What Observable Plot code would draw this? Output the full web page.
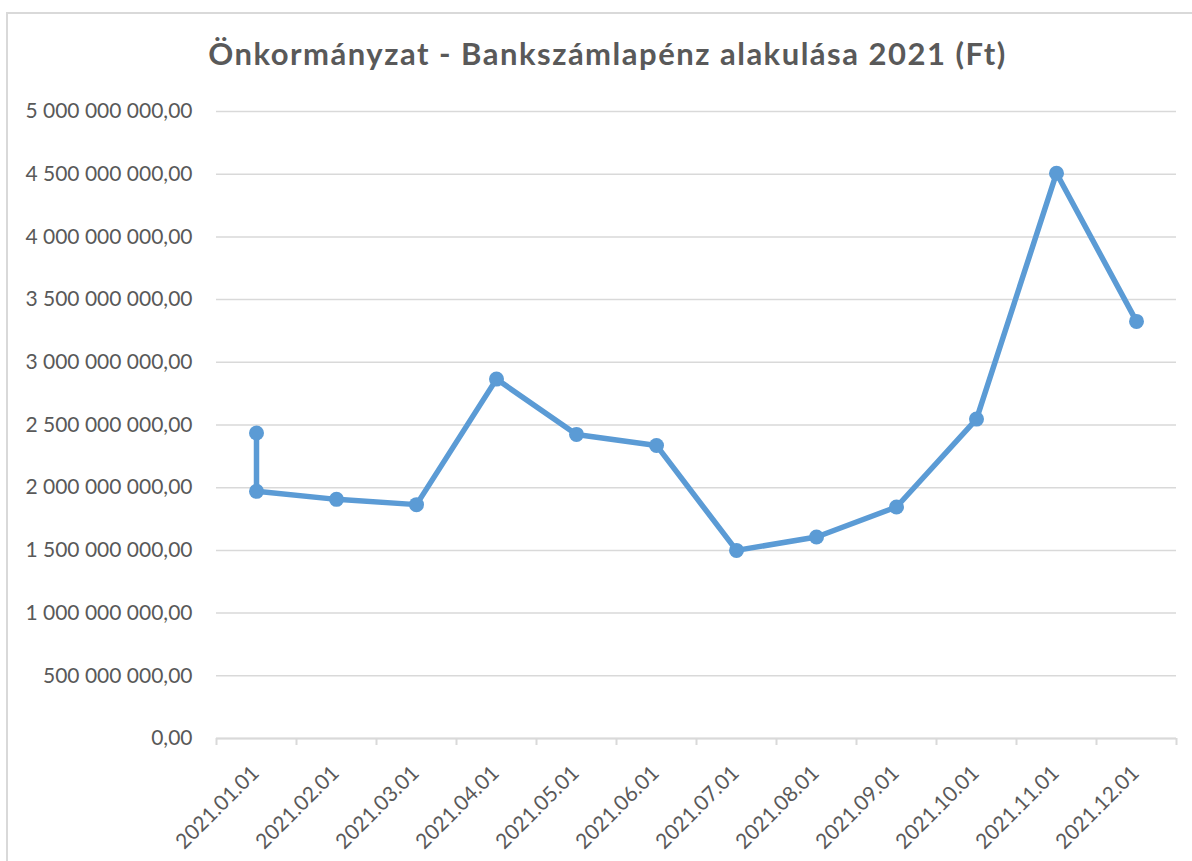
<!DOCTYPE html>
<html>
<head>
<meta charset="utf-8">
<script src="https://cdn.jsdelivr.net/npm/d3@7"></script>
<script src="https://cdn.jsdelivr.net/npm/@observablehq/plot@0.6"></script>
<style>
  html, body { margin: 0; padding: 0; background: #fff; }
  #wrap { position: relative; width: 1192px; height: 861px; overflow: hidden; }
  #frame { position: absolute; left: 6px; top: 12px; width: 1200px; height: 900px;
           border-left: 2px solid #d9d9d9; border-top: 2px solid #d9d9d9; box-sizing: border-box; }
  #title { position: absolute; left: 0; width: 1215px; top: 34px; text-align: center;
           font-family: Lato, "Open Sans", sans-serif; font-weight: bold; font-size: 31px;
           letter-spacing: 1.5px; color: #595959; }
  #chart { position: absolute; left: 0; top: 0; }
</style>
</head>
<body>
<div id="wrap">
  <div id="frame"></div>
  <div id="title">Önkormányzat - Bankszámlapénz alakulása 2021 (Ft)</div>
  <div id="chart"></div>
</div>
<script>
const categories = ["2021.01.01","2021.02.01","2021.03.01","2021.04.01","2021.05.01","2021.06.01",
                    "2021.07.01","2021.08.01","2021.09.01","2021.10.01","2021.11.01","2021.12.01"];
const pointDates = ["2021.01.01","2021.01.01","2021.02.01","2021.03.01","2021.04.01","2021.05.01","2021.06.01",
                    "2021.07.01","2021.08.01","2021.09.01","2021.10.01","2021.11.01","2021.12.01"];
const balances = [2436e6, 1971e6, 1907e6, 1865e6, 2866e6, 2425e6, 2337e6,
                  1500e6, 1607e6, 1846e6, 2547e6, 4508e6, 3326e6];
const yTicks = [0, 5e8, 1e9, 1.5e9, 2e9, 2.5e9, 3e9, 3.5e9, 4e9, 4.5e9, 5e9];

const data = pointDates.map((d, k) => ({i: categories.indexOf(d), v: balances[k]}));
const labels = categories.map((c, i) => ({i, c}));
const boundaries = categories.map((_, i) => i - 0.5).concat([categories.length - 0.5]);

const huf = d3.formatLocale({decimal: ",", thousands: " ", grouping: [3], currency: ["", ""]}).format(",.2f");
const grey = "#595959";
const light = "#d9d9d9";
const font = "Lato, 'Open Sans', sans-serif";

const plot = Plot.plot({
  width: 1192,
  height: 861,
  marginTop: 111,
  marginBottom: 123,
  marginLeft: 216,
  marginRight: 16,
  style: {fontFamily: font, background: "transparent", color: grey},
  x: {type: "linear", domain: [-0.5, categories.length - 0.5]},
  y: {domain: [0, 5e9]},
  marks: [
    Plot.gridY(yTicks, {stroke: light, strokeOpacity: 1, strokeWidth: 1.5}),
    Plot.axisY({ticks: yTicks, tickSize: 0, tickPadding: 24, tickFormat: huf, fontSize: 21, fill: grey, label: null}),
    Plot.ruleY([0], {stroke: light, strokeWidth: 2}),
    Plot.axisX({ticks: boundaries, tickSize: 7, tickFormat: () => "", stroke: light, strokeWidth: 2, label: null}),
    Plot.text(labels, {x: "i", text: "c", frameAnchor: "bottom", dy: 31, dx: -1, rotate: -45,
      textAnchor: "end", lineAnchor: "middle", fontSize: 21, fill: grey}),
    Plot.line(data, {x: "i", y: "v", stroke: "#5B9BD5", strokeWidth: 5.5, strokeLinejoin: "round"}),
    Plot.dot(data, {x: "i", y: "v", r: 7.5, fill: "#5B9BD5", stroke: "none"})
  ]
});
document.getElementById("chart").appendChild(plot);
</script>
</body>
</html>
